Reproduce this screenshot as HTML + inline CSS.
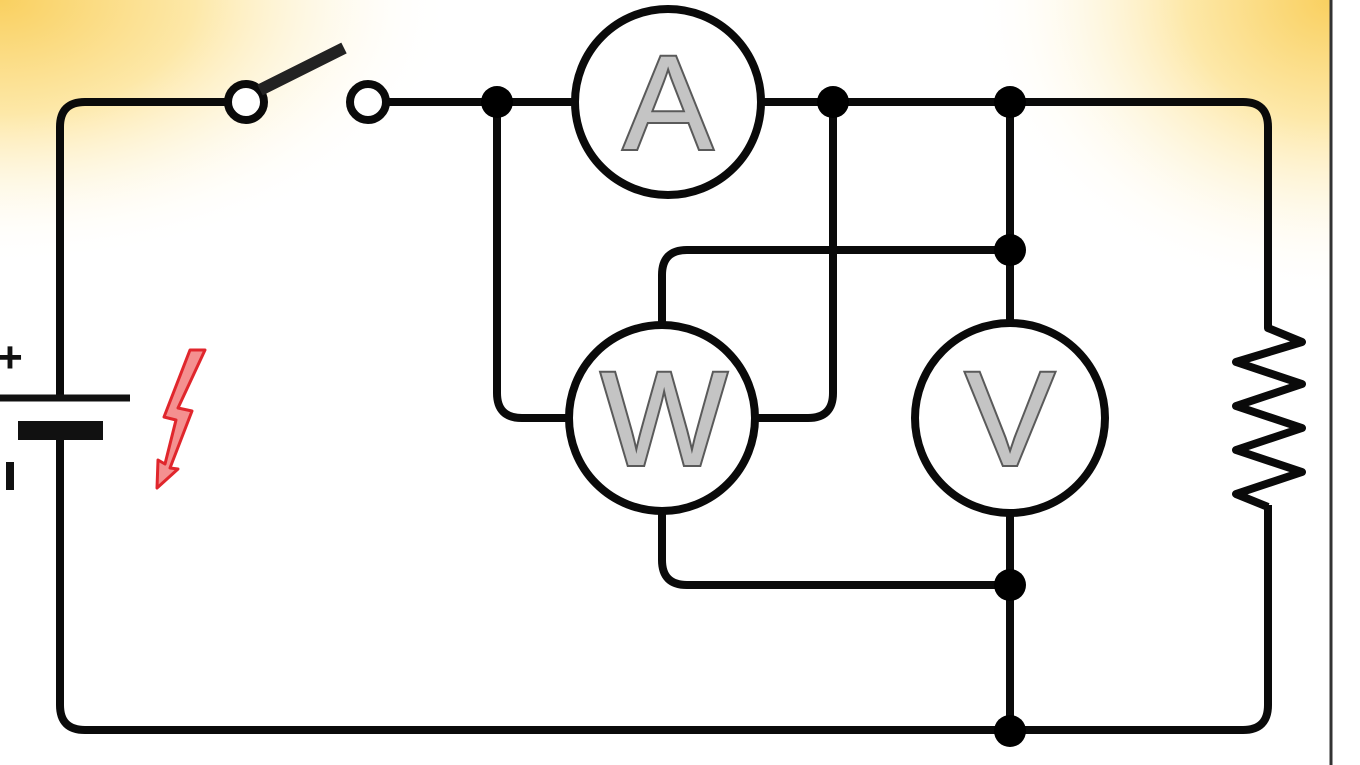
<!DOCTYPE html>
<html><head><style>
html,body{margin:0;padding:0;width:1360px;height:765px;overflow:hidden;background:#fff}
</style></head><body>
<svg width="1360" height="765" viewBox="0 0 1360 765" xmlns="http://www.w3.org/2000/svg">
<defs>
<radialGradient id="g1" cx="0" cy="0" r="1" gradientUnits="userSpaceOnUse" gradientTransform="translate(0,0) scale(650,380)">
<stop offset="0" stop-color="#f9d060"/><stop offset="0.3" stop-color="#fde8a8"/><stop offset="0.7" stop-color="#fff" stop-opacity="0"/></radialGradient>
<radialGradient id="g2" cx="0" cy="0" r="1" gradientUnits="userSpaceOnUse" gradientTransform="translate(1330,0) scale(480,400)">
<stop offset="0" stop-color="#f9d060"/><stop offset="0.3" stop-color="#fde8a8"/><stop offset="0.75" stop-color="#fff" stop-opacity="0"/></radialGradient>
</defs>
<rect x="0" y="0" width="1330" height="765" fill="#fff"/>
<rect x="0" y="0" width="1330" height="765" fill="url(#g1)"/>
<rect x="0" y="0" width="1330" height="765" fill="url(#g2)"/>
<line x1="1331" y1="0" x2="1331" y2="765" stroke="#333" stroke-width="3"/>
<g fill="none" stroke="#0a0a0a" stroke-width="8" stroke-linejoin="round">
<path d="M228,102 H85 Q60,102 60,127 V398"/>
<path d="M60,440 V705 Q60,730 85,730 H1243 Q1268,730 1268,705 V505"/>
<path d="M386,102 H575"/>
<path d="M761,102 H1243 Q1268,102 1268,127 V328 L1302,342 L1236,362 L1302,384 L1236,406 L1302,428 L1236,450 L1302,472 L1236,494 L1268,507"/>
<path d="M497,102 V393 Q497,418 522,418 H569"/>
<path d="M757,418 H808 Q833,418 833,393 V102"/>
<path d="M662,323 V275 Q662,250 687,250 H1010"/>
<path d="M662,513 V560 Q662,585 687,585 H1010"/>
<path d="M1010,102 V322"/>
<path d="M1010,514 V730"/>
<circle cx="246" cy="102" r="18" fill="#fff"/>
<circle cx="368" cy="102" r="18" fill="#fff"/>
<circle cx="668" cy="102" r="93" fill="#fff"/>
<circle cx="662" cy="418" r="93" fill="#fff"/>
<circle cx="1010" cy="418" r="95" fill="#fff"/>
</g>
<line x1="260" y1="90" x2="344" y2="48" stroke="#222" stroke-width="12"/>
<g fill="#000">
<circle cx="497" cy="102" r="16"/><circle cx="833" cy="102" r="16"/><circle cx="1010" cy="102" r="16"/>
<circle cx="1010" cy="250" r="16"/><circle cx="1010" cy="585" r="16"/><circle cx="1010" cy="731" r="16"/>
</g>
<line x1="0" y1="398" x2="130" y2="398" stroke="#111" stroke-width="7"/>
<rect x="18" y="421" width="85" height="19" fill="#111"/>
<text x="10" y="372" font-family="Liberation Sans, sans-serif" font-weight="bold" font-size="44" text-anchor="middle" fill="#111">+</text>
<rect x="6" y="462" width="8" height="28" fill="#111"/>
<path d="M190,350 L205,350 L178,408 L192,411 L170,468 L178,469 L157,488 L158,460 L165,464 L176,420 L164,417 Z" fill="#f49090" stroke="#e0262c" stroke-width="3" stroke-linejoin="round"/>
<g font-family="Liberation Sans, sans-serif" font-size="134" text-anchor="middle" fill="#c4c4c4" stroke="#5a5a5a" stroke-width="4" paint-order="stroke">
<text x="668" y="149">A</text>
<text x="664" y="465">W</text>
<text x="1010" y="465">V</text>
</g>
</svg>
</body></html>
